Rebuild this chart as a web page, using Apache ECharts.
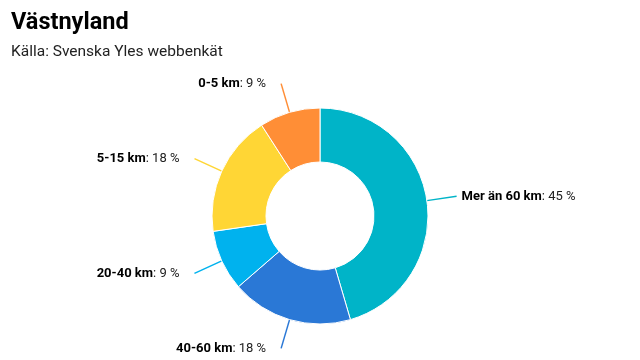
<!DOCTYPE html>
<html><head><meta charset="utf-8">
<script src="https://cdn.jsdelivr.net/npm/echarts@6/dist/echarts.min.js"></script>
<style>html,body{margin:0;padding:0;background:#fff}#c{width:640px;height:360px}</style>
</head><body><div id="c"></div>
<script>
const categories = ['Mer än 60 km', '40-60 km', '20-40 km', '5-15 km', '0-5 km'];
const values = [45, 18, 9, 18, 9];
const colors = ['#00B4C8', '#2A78D6', '#00B2EE', '#FFD635', '#FF8E36'];
const FONT = 'Roboto, sans-serif';
const chart = echarts.init(document.getElementById('c'));
chart.setOption({
  animation: false,
  title: {
    text: 'Västnyland',
    subtext: 'Källa: Svenska Yles webbenkät',
    left: 6, top: 6,
    itemGap: 9,
    textStyle: { fontFamily: FONT, fontSize: 23.5, fontWeight: 'bold', color: '#000' },
    subtextStyle: { fontFamily: FONT, fontSize: 15.5, color: '#222' }
  },
  series: [{
    type: 'pie',
    center: [320, 216],
    radius: [54, 108],
    startAngle: 90,
    clockwise: true,
    itemStyle: { borderColor: '#fff', borderWidth: 1 },
    data: categories.map((c, i) => ({
      name: c, value: values[i],
      itemStyle: { color: colors[i] },
      label: { distanceToLabelLine: i === 0 ? 5 : 15 }
    })),
    label: {
      formatter: '{b|{b}}: {c} %',
      fontFamily: FONT, fontSize: 13, color: '#222',
      rich: { b: { fontFamily: FONT, fontSize: 13, fontWeight: 'bold', color: '#000' } }
    },
    labelLine: { length: 30, length2: 0, lineStyle: { width: 1.5 } }
  }]
});
</script></body></html>
